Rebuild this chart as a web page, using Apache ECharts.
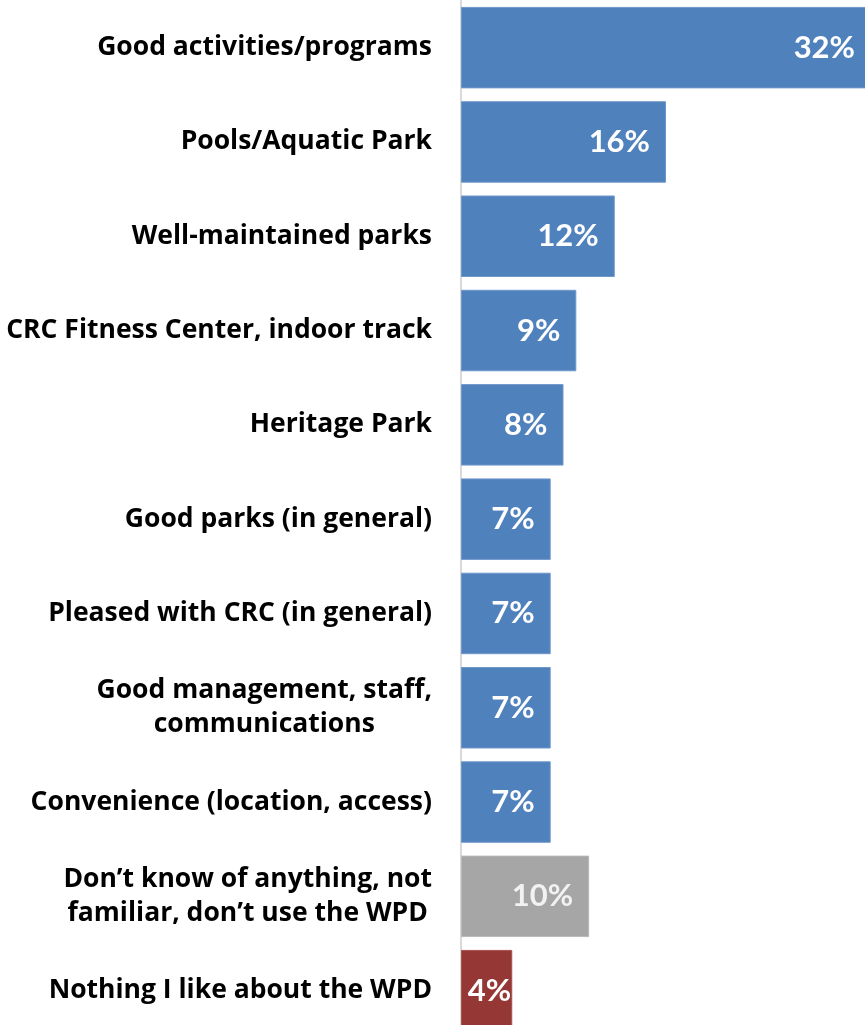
<!DOCTYPE html>
<html>
<head>
<meta charset="utf-8">
<script src="https://cdn.jsdelivr.net/npm/echarts@6/dist/echarts.min.js"></script>
<style>
  html, body { margin: 0; padding: 0; background: #fff; }
  #chart { width: 865px; height: 1025px; }
</style>
</head>
<body>
<div id="chart"></div>
<script>
// Survey responses: what people like most about the WPD (percent of respondents)
const categories = [
  'Good activities/programs',
  'Pools/Aquatic Park',
  'Well-maintained parks',
  'CRC Fitness Center, indoor track',
  'Heritage Park',
  'Good parks (in general)',
  'Pleased with CRC (in general)',
  'Good management, staff,\ncommunications',
  'Convenience (location, access)',
  'Don\u2019t know of anything, not\nfamiliar, don\u2019t use the WPD',
  'Nothing I like about the WPD'
];
const values = [32, 16, 12, 9, 8, 7, 7, 7, 7, 10, 4];
// response group per row: positive mentions, no opinion, negative
const groups = ['pos', 'pos', 'pos', 'pos', 'pos', 'pos', 'pos', 'pos', 'pos', 'unk', 'neg'];

const groupColors = { pos: '#4F81BD', unk: '#A6A6A6', neg: '#953735' };
const groupBorders = { pos: '#7097CB', unk: '#B8B8B8', neg: '#A65250' };

const chart = echarts.init(document.getElementById('chart'), null, { renderer: 'canvas' });

const barData = values.map((v, i) => {
  const g = groups[i];
  const item = {
    value: v,
    itemStyle: { color: groupColors[g], borderColor: groupBorders[g], borderWidth: 1 }
  };
  if (v < 5) {
    item.label = { distance: 1 };
  }
  if (g === 'unk') {
    item.label = { color: '#F2F2F2' };
  }
  return item;
});

const labelFont = { fontFamily: 'Open Sans', fontWeight: 'bold', fontSize: 26.5, lineHeight: 34, color: '#000' };

chart.setOption({
  animation: false,
  backgroundColor: '#ffffff',
  grid: {
    left: 461, right: -6, top: 0.5, bottom: -12.8,
    containLabel: false,
    outerBoundsMode: 'none'
  },
  xAxis: {
    type: 'value',
    min: 0,
    max: 32,
    show: false
  },
  yAxis: {
    type: 'category',
    inverse: true,
    data: categories,
    axisLine: { show: true, lineStyle: { color: '#D9D9D9', width: 2 } },
    axisTick: { show: false },
    splitLine: { show: false },
    axisLabel: Object.assign({
      margin: 29,
      formatter: (txt) => txt.split('\n').map(s => '{c|' + s + '}').join('\n'),
      rich: {
        c: Object.assign({ align: 'center' }, labelFont)
      }
    }, labelFont)
  },
  series: [{
    type: 'bar',
    data: barData,
    barCategoryGap: '13.6%',
    clip: true,
    label: {
      show: true,
      position: 'insideRight',
      distance: 16,
      color: '#FFFFFF',
      fontFamily: 'Lato',
      fontWeight: 'bold',
      fontSize: 31,
      formatter: (p) => p.value + '%'
    }
  }]
});
</script>
</body>
</html>
